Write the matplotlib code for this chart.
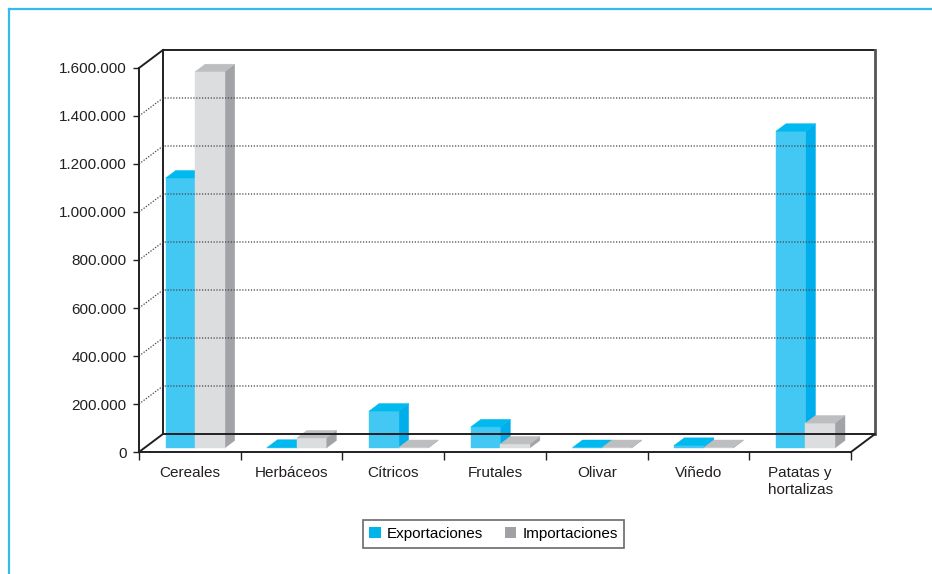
import numpy as np
import matplotlib.pyplot as plt
from matplotlib.patches import Polygon, Patch
from matplotlib.lines import Line2D

plt.rcParams['font.family'] = ['Liberation Sans', 'DejaVu Sans']

categorias = ["Cereales", "Herbáceos", "Cítricos", "Frutales", "Olivar", "Viñedo", "Patatas y\nhortalizas"]
exportaciones = [1125000, 3000, 154000, 88000, 2000, 11000, 1320000]
importaciones = [1568000, 42000, 2000, 17000, 2000, 2000, 104000]
series_names = ["Exportaciones", "Importaciones"]
yticks = list(range(0, 1600001, 200000))

# colores (frente, tapa, lateral)
col_exp = ("#43C8F3", "#00B9EF", "#00AEEC")
col_imp = ("#DCDDDF", "#BDBEC0", "#A2A3A6")

W, H = 932, 574
fig = plt.figure(figsize=(W / 100, H / 100), dpi=100)
# plano frontal en pixeles: x 139..851, y 68..452
ax = fig.add_axes([139 / W, (H - 452) / H, 712 / W, 384 / H])
ax.set_xlim(0, 7)
ax.set_ylim(0, 1600000)

DX = 24 / (712 / 7)          # profundidad en unidades de categoria
DY = 18 / 384 * 1600000      # profundidad en unidades de valor
ymax = 1600000
n = len(categorias)

# pared de fondo y suelo
dark = "#231F20"
lw = 1.4
ax.plot([DX, DX + n], [ymax + DY, ymax + DY], color=dark, lw=lw, clip_on=False)
ax.plot([DX, DX], [DY, ymax + DY], color=dark, lw=lw, clip_on=False)
ax.plot([DX, DX + n], [DY, DY], color=dark, lw=lw, clip_on=False)
ax.plot([DX + n, DX + n], [DY, ymax + DY], color="#555555", lw=2, clip_on=False)
ax.plot([0, DX], [0, DY], color=dark, lw=lw, clip_on=False)
ax.plot([n, n + DX], [0, DY], color=dark, lw=lw, clip_on=False)
ax.plot([0, DX], [ymax, ymax + DY], color=dark, lw=lw, clip_on=False)

for v in yticks[1:-1]:
    ax.plot([0, DX, n + DX], [v, v + DY, v + DY], color="#444444", lw=0.9,
            linestyle=(0, (1, 1.3)), clip_on=False)

# barras 3D
d0, d1 = 0.22, 0.64
bw = 0.29
for i in range(n):
    for s, (vals, cols) in enumerate([(exportaciones, col_exp), (importaciones, col_imp)]):
        v = vals[i]
        x0 = i + 0.21 + s * bw
        x1 = x0 + bw
        a, b = d0 * DX, d1 * DX
        ya, yb = d0 * DY, d1 * DY
        front = [(x0 + a, ya), (x1 + a, ya), (x1 + a, ya + v), (x0 + a, ya + v)]
        top = [(x0 + a, ya + v), (x1 + a, ya + v), (x1 + b, yb + v), (x0 + b, yb + v)]
        side = [(x1 + a, ya), (x1 + b, yb), (x1 + b, yb + v), (x1 + a, ya + v)]
        for pts, c in [(side, cols[2]), (front, cols[0]), (top, cols[1])]:
            ax.add_patch(Polygon(pts, closed=True, facecolor=c, edgecolor=c,
                                 lw=0.3, clip_on=False))

# ejes
for sp in ["top", "right"]:
    ax.spines[sp].set_visible(False)
for sp in ["left", "bottom"]:
    ax.spines[sp].set_color(dark)
    ax.spines[sp].set_linewidth(lw)
    ax.spines[sp].set_zorder(5)

ax.set_yticks(yticks)
ax.set_yticklabels([f"{v:,}".replace(",", ".") for v in yticks])
ax.tick_params(axis="y", length=4, width=1, color=dark, pad=5, labelsize=11, labelcolor="#231F20")

ax.set_xticks(np.arange(n + 1))
ax.set_xticklabels([])
ax.set_xticks(np.arange(n) + 0.5, minor=True)
ax.set_xticklabels(categorias, minor=True, fontsize=11, color="#231F20", linespacing=1.3)
ax.tick_params(axis="x", which="major", length=6, width=1, color=dark)
ax.tick_params(axis="x", which="minor", length=0, pad=10)
for t in ax.get_xticklabels(minor=True):
    t.set_verticalalignment("top")
    t.set_multialignment("center")

# leyenda
handles = [Patch(facecolor="#00B4EA", edgecolor="none"),
           Patch(facecolor="#A0A1A4", edgecolor="none")]
leg = ax.legend(handles, series_names, ncol=2, loc="center",
                bbox_to_anchor=(493.5 / W, 1 - 534 / H), bbox_transform=fig.transFigure,
                fontsize=11, frameon=True, fancybox=False, edgecolor="#444444",
                handlelength=0.75, handleheight=0.75, handletextpad=0.4,
                columnspacing=1.4, borderpad=0.45, borderaxespad=0)
leg.get_frame().set_linewidth(1.2)

# marco exterior azul
fig.add_artist(Line2D([9 / W, 9 / W], [1 - 9 / H, 0], transform=fig.transFigure,
                      color="#33BBEA", lw=1.6))
fig.add_artist(Line2D([9 / W, 1], [1 - 9 / H, 1 - 9 / H], transform=fig.transFigure,
                      color="#33BBEA", lw=1.6))

fig.savefig("out.png", dpi=100)
